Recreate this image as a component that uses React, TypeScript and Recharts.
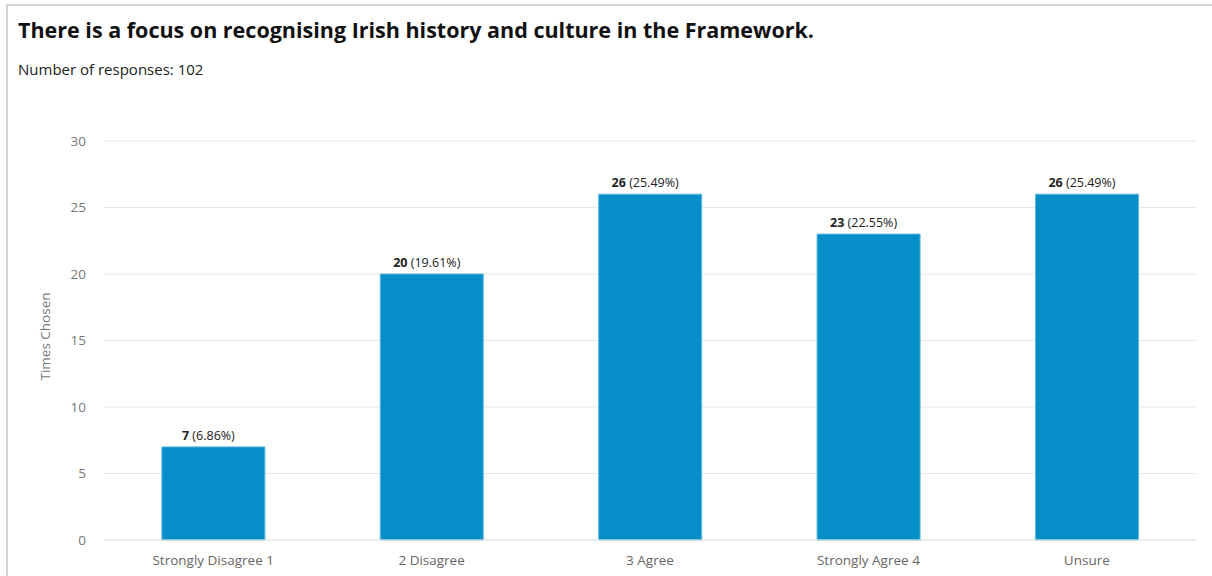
import React from "react";
import { BarChart, Bar, XAxis, YAxis, CartesianGrid, LabelList, Label } from "recharts";

const categories = ["Strongly Disagree 1", "2 Disagree", "3 Agree", "Strongly Agree 4", "Unsure"];
const counts = [7, 20, 26, 23, 26];
const percents = ["6.86%", "19.61%", "25.49%", "22.55%", "25.49%"];
const yTicks = [0, 5, 10, 15, 20, 25, 30];

const data = categories.map((c, i) => ({ name: c, value: counts[i], pct: percents[i] }));

const FONT = "'Open Sans', 'Noto Sans', sans-serif";

const BarLabel = (props: any) => {
  const { x, y, width, index } = props;
  const d = data[index];
  return (
    <text x={x + width / 2 - 5} y={y - 7} textAnchor="middle" fontFamily={FONT} fontSize={12.5} fill="#222">
      <tspan fontWeight="bold">{d.value}</tspan>
      <tspan> ({d.pct})</tspan>
    </text>
  );
};

export default function App() {
  return (
    <div style={{ position: "absolute", left: 0, top: 0, width: 1212, height: 576, overflow: "hidden", background: "#fff", fontFamily: FONT }}>
      <div style={{ position: "absolute", left: 6, top: 4, width: 1300, height: 700, border: "2px solid #d4d4d4", boxSizing: "border-box" }} />
      <div style={{ position: "absolute", left: 18, top: 15, fontSize: 21.5, fontWeight: 700, color: "#111", whiteSpace: "nowrap", lineHeight: "30px" }}>
        There is a focus on recognising Irish history and culture in the Framework.
      </div>
      <div style={{ position: "absolute", left: 18, top: 59, fontSize: 15, color: "#222", whiteSpace: "nowrap", lineHeight: "21px" }}>
        Number of responses: 102
      </div>
      <div style={{ position: "absolute", left: 0, top: 0 }}>
        <BarChart width={1212} height={576} data={data} margin={{ top: 141, right: 16, bottom: 0, left: 0 }} barCategoryGap="26.5%">
          <CartesianGrid vertical={false} stroke="#e8e8e8" strokeWidth={1} />
          <XAxis
            dataKey="name"
            height={36}
            tickLine={false}
            axisLine={{ stroke: "#e4e4e4" }}
            tickMargin={9}
            tick={{ fill: "#666", fontSize: 13.5, fontFamily: FONT }}
            interval={0}
          />
          <YAxis
            width={104}
            domain={[0, 30]}
            ticks={yTicks}
            axisLine={false}
            tickLine={false}
            tickMargin={12}
            tick={{ fill: "#777", fontSize: 13.5, fontFamily: FONT }}
          >
            <Label
              content={(p: any) => {
                const vb = p.viewBox;
                const cx = vb.x + 45;
                const cy = vb.y + vb.height / 2 - 4;
                return (
                  <text x={cx} y={cy} transform={`rotate(-90, ${cx}, ${cy})`} textAnchor="middle" dominantBaseline="central" fontFamily={FONT} fontSize={13.5} fill="#777">
                    Times Chosen
                  </text>
                );
              }}
            />
          </YAxis>
          <Bar dataKey="value" fill="#068ec9" stroke="#5fb6dd" strokeWidth={1} isAnimationActive={false}>
            <LabelList dataKey="value" content={BarLabel} />
          </Bar>
        </BarChart>
      </div>
    </div>
  );
}
